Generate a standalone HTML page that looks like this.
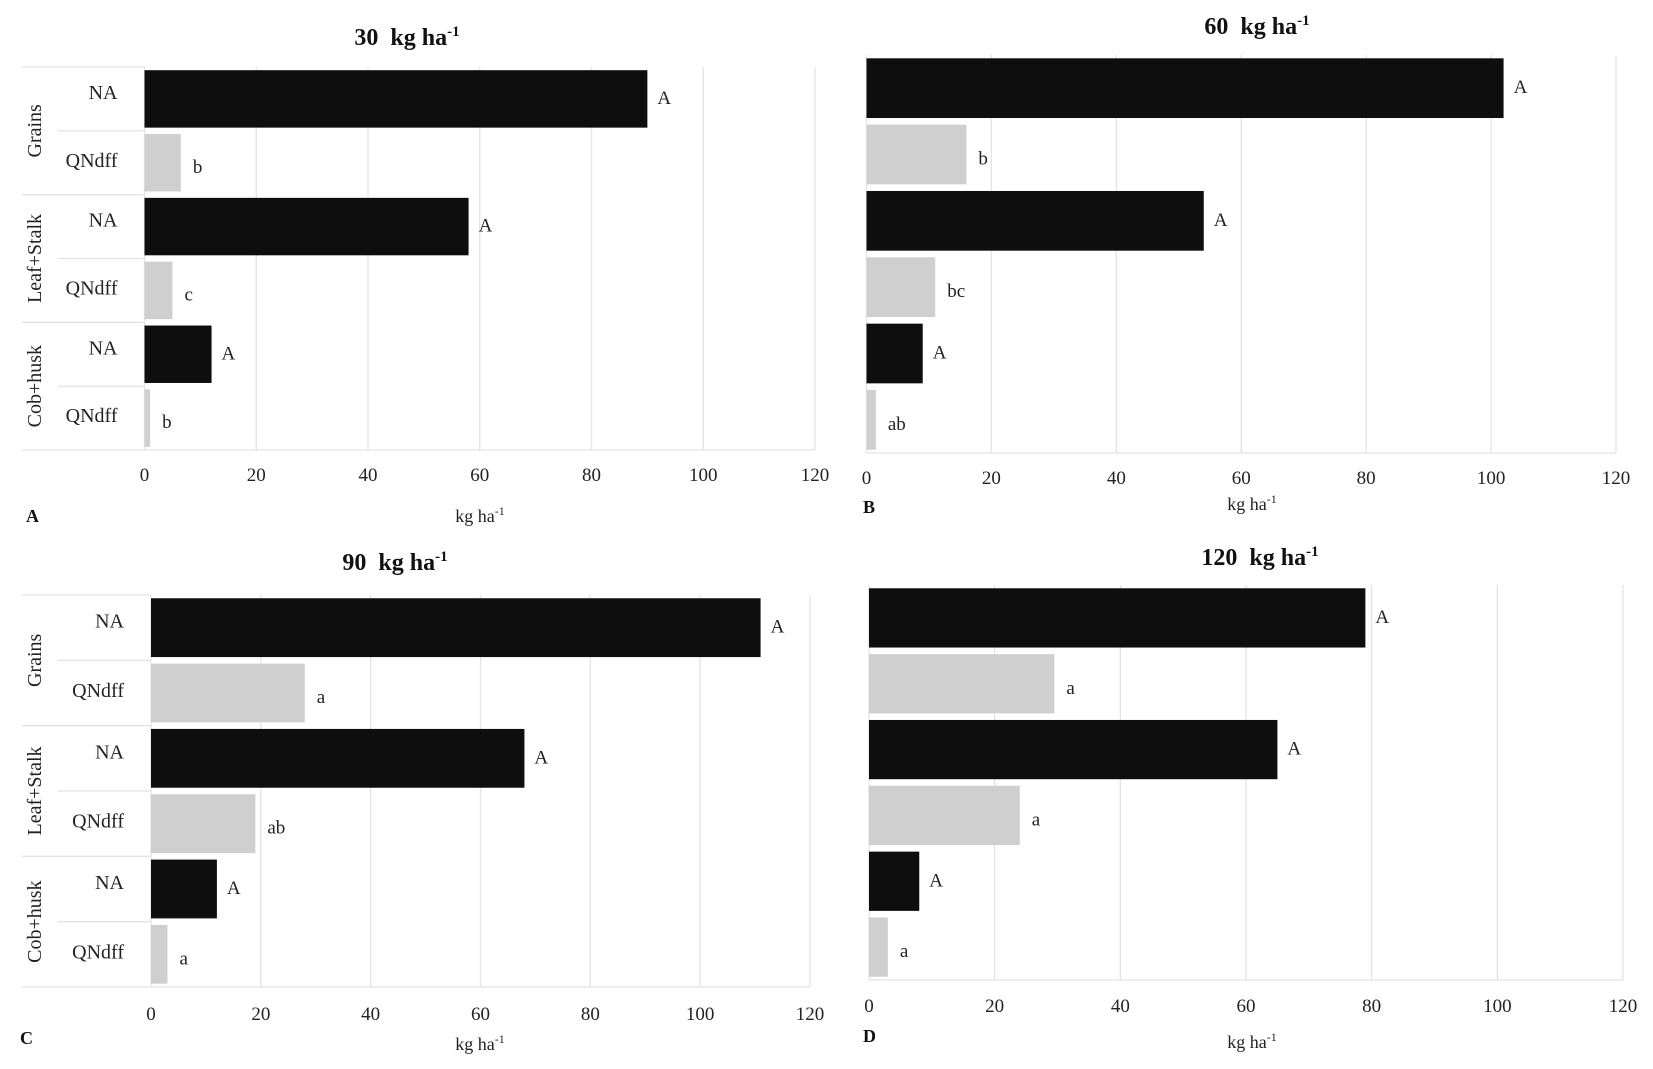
<!DOCTYPE html>
<html><head><meta charset="utf-8"><style>
body{margin:0;background:#fff;width:1653px;height:1064px;overflow:hidden}
svg{font-family:"Liberation Serif",serif}
</style></head><body>
<svg id="c" width="1653" height="1064" xmlns="http://www.w3.org/2000/svg"></svg>
<script>
const rowLabels=["NA","QNdff","NA","QNdff","NA","QNdff"];
const groups=["Grains","Leaf+Stalk","Cob+husk"];
const ticks=[0,20,40,60,80,100,120];
const valsA=[90,6.5,58,5,12,1];
const valsB=[102,16,54,11,9,1.5];
const valsC=[111,28,68,19,12,3];
const valsD=[79,29.5,65,24,8,3];
const letA=["A","b","A","c","A","b"];
const letB=["A","b","A","bc","A","ab"];
const letC=["A","a","A","ab","A","a"];
const letD=["A","a","A","a","A","a"];
const titles=["30","60","90","120"];
const NS="http://www.w3.org/2000/svg";
const svg=document.getElementById('c');
function mk(tag,attrs,parent,text){const e=document.createElementNS(NS,tag);for(const k in attrs)e.setAttribute(k,attrs[k]);if(text!==undefined)e.textContent=text;(parent||svg).appendChild(e);return e;}
function panel(id,x0,x1,y0,y1,vals,lets,title,tx,ty,tickY,xtY,letter,lx,ly,showCats){
  const g=mk('g',{});
  
  
  const xs=v=>x0+(v/120)*(x1-x0);
  const rh=(y1-y0)/6;
  ticks.forEach(t=>{
    const l=mk('line',{x1:xs(t),x2:xs(t),y1:y0,y2:y1,stroke:'#e4e4e4','stroke-width':1.3},g);
    
    const tl=mk('text',{x:xs(t),y:tickY,'text-anchor':'middle','font-size':19,fill:'#222'},g,String(t));
    
  });
  const left=showCats?22:x0;
  const bl=mk('line',{x1:left,x2:x1,y1:y1,y2:y1,stroke:'#e4e4e4','stroke-width':1.3},g);
  
  if(showCats){
    for(let k=0;k<3;k++){
      const yy=y0+k*2*rh;
      const s=mk('line',{x1:22,x2:x0,y1:yy,y2:yy,stroke:'#e4e4e4','stroke-width':1.3},g);
      
      const s2=mk('line',{x1:58,x2:x0,y1:yy+rh,y2:yy+rh,stroke:'#e4e4e4','stroke-width':1.3},g);
      
      const cy=yy+rh;
      const gt=mk('text',{x:0,y:0,'text-anchor':'middle','font-size':20,fill:'#222',transform:`translate(41,${cy}) rotate(-90)`},g,groups[k]);
      
    }
  }
  vals.forEach((v,i)=>{
    const yy=y0+i*rh+rh*0.05;
    const b=mk('rect',{x:x0,y:yy,width:xs(v)-x0,height:rh*0.9,fill:i%2?'#d0cfd0':'#0e0e0e'},g);
    
    
    const lt=mk('text',{x:xs(v)+(i%2?12:10),y:yy+rh*0.45+(i%2?10:5),'font-size':19,fill:'#222'},g,lets[i]);
    
    if(showCats){
      const rl=mk('text',{x:x0-27,y:y0+i*rh+rh/2+(i%2?4:0),'text-anchor':'end','font-size':20,fill:'#222'},g,rowLabels[i]);
      
    }
  });
  const t=mk('text',{x:tx,y:ty,'text-anchor':'middle','font-size':24,'font-weight':'bold',fill:'#111'},g);
  
  mk('tspan',{},t,title+'\u00a0\u00a0kg ha');mk('tspan',{dy:-9,'font-size':15},t,'-1');
  const xt=mk('text',{x:(id==='a'||id==='c'?480:1252),y:xtY,'text-anchor':'middle','font-size':18,fill:'#222'},g);
  
  mk('tspan',{},xt,'kg ha');mk('tspan',{dy:-7,'font-size':12},xt,'-1');
  const pl=mk('text',{x:lx,y:ly,'font-size':18,'font-weight':'bold',fill:'#111'},g,letter);
  
}
panel('a',144.5,815,67,450,valsA,letA,titles[0],407,45,481,522,'A',26,522,true);
panel('b',866.5,1616,55,453,valsB,letB,titles[1],1257,34,484,510,'B',863,513,false);
panel('c',151,810,595,987,valsC,letC,titles[2],395,570,1020,1050,'C',20,1044,true);
panel('d',869,1623,585,980,valsD,letD,titles[3],1260,565,1012,1048,'D',863,1042,false);
</script>
</body></html>
